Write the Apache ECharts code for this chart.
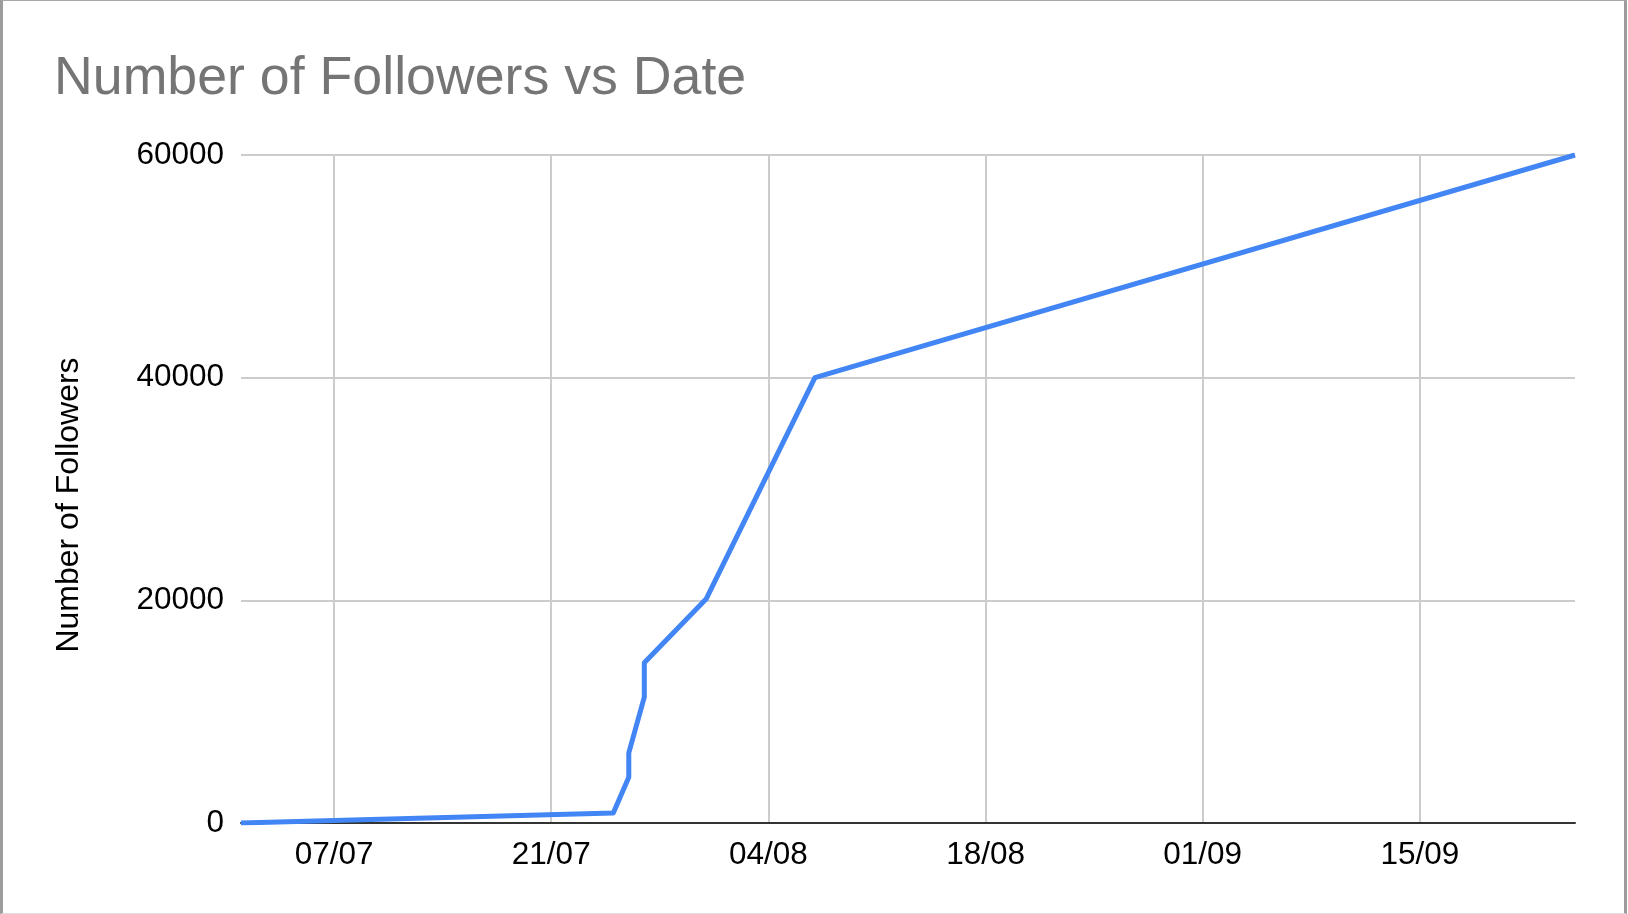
<!DOCTYPE html>
<html>
<head>
<meta charset="utf-8">
<script src="https://cdn.jsdelivr.net/npm/echarts@6/dist/echarts.min.js"></script>
<style>
  html, body { margin: 0; padding: 0; background: #fff; }
  #chart { position: absolute; left: 0; top: 0; width: 1628px; height: 914px; }
  #frame { position: absolute; left: 0; top: 0; width: 1627px; height: 914px; box-sizing: border-box;
           border-left: 3px solid #9c9c9c; border-right: 3px solid #9c9c9c;
           border-top: 1px solid #a8a8a8; border-bottom: 1px solid #dedede; pointer-events: none; }
</style>
</head>
<body>
<div id="chart"></div>
<div id="frame"></div>
<script>
// ---- data ----
const dates = ['2022-07-01', '2022-07-25', '2022-07-26', '2022-07-26', '2022-07-27', '2022-07-27', '2022-07-31', '2022-08-07', '2022-09-25'];
const followers = [0, 900, 4100, 6300, 11300, 14400, 20150, 40000, 60000];
const tickDates = ['2022-07-07', '2022-07-21', '2022-08-04', '2022-08-18', '2022-09-01', '2022-09-15'];
const tickLabels = ['07/07', '21/07', '04/08', '18/08', '01/09', '15/09'];
const yTicks = [0, 20000, 40000, 60000];
const xMin = '2022-07-01';
const xMax = '2022-09-25';

function toTime(s) {
  const p = s.split('-').map(Number);
  return Date.UTC(p[0], p[1] - 1, p[2]);
}
const tickTimes = tickDates.map(toTime);

const FONT = 'Liberation Sans, Arial, sans-serif';
const chart = echarts.init(document.getElementById('chart'), null, { renderer: 'canvas' });
chart.setOption({
  animation: false,
  backgroundColor: '#ffffff',
  title: {
    text: 'Number of Followers vs Date',
    left: 54,
    top: 52,
    padding: 0,
    textStyle: { fontFamily: FONT, fontSize: 53.7, fontWeight: 'normal', color: '#757575' }
  },
  grid: { left: 241, right: 53, top: 155, bottom: 91, containLabel: false },
  xAxis: {
    type: 'value',
    min: toTime(xMin),
    max: toTime(xMax),
    axisLine: { show: true, onZero: false, lineStyle: { color: '#333333', width: 2 } },
    axisTick: { show: false, customValues: tickTimes },
    splitLine: { show: true, lineStyle: { color: '#cccccc', width: 2 } },
    axisLabel: {
      customValues: tickTimes,
      margin: 16,
      fontFamily: FONT,
      fontSize: 31.5,
      color: '#000000',
      formatter: function (val) {
        let best = 0, bd = Infinity;
        tickTimes.forEach(function (t, i) { const d = Math.abs(t - val); if (d < bd) { bd = d; best = i; } });
        return tickLabels[best];
      }
    }
  },
  yAxis: {
    type: 'value',
    min: yTicks[0],
    max: yTicks[yTicks.length - 1],
    interval: yTicks[1] - yTicks[0],
    name: 'Number of Followers',
    nameLocation: 'middle',
    nameGap: 156,
    nameRotate: 90,
    nameTextStyle: { fontFamily: FONT, fontSize: 32, color: '#000000', padding: [0, 32, 0, 0] },
    axisLine: { show: false },
    axisTick: { show: false },
    splitLine: { show: true, lineStyle: { color: '#cccccc', width: 2 } },
    axisLabel: {
      margin: 17, fontFamily: FONT, fontSize: 31.5, color: '#000000',
      formatter: function (val) { return String(val); }
    }
  },
  series: [{
    type: 'line',
    data: dates.map(function (d, i) { return [toTime(d), followers[i]]; }),
    showSymbol: false,
    symbol: 'none',
    lineStyle: { color: '#4285F4', width: 5, join: 'round' },
    itemStyle: { color: '#4285F4' },
    z: 5
  }]
});
</script>
</body>
</html>
